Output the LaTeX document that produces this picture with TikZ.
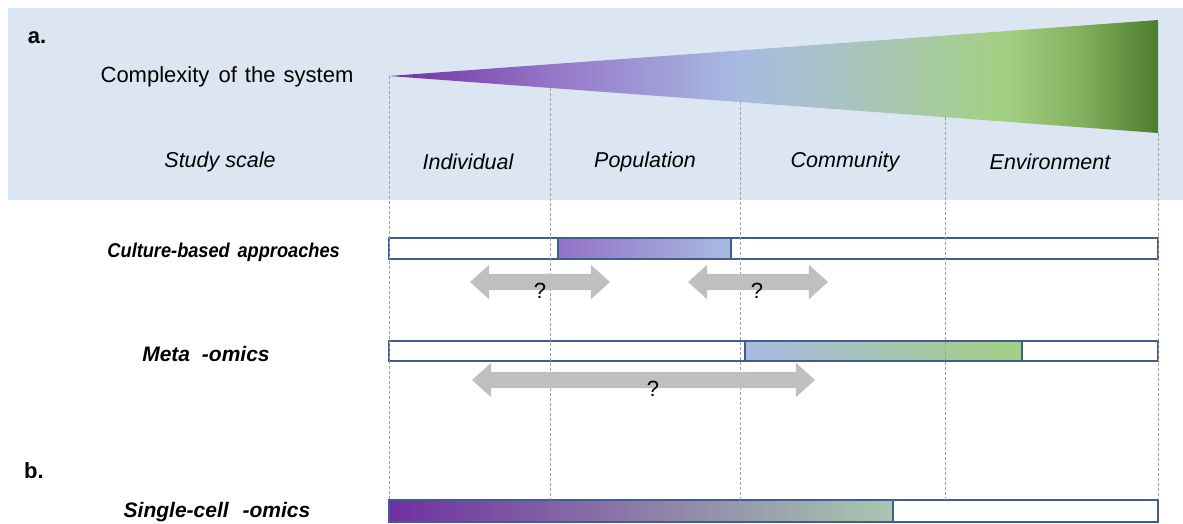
\documentclass[tikz,border=0pt]{standalone}
\usepackage{fontspec}
\usepackage{graphicx}
\setmainfont{Liberation Sans}
\usetikzlibrary{shapes.arrows}
\definecolor{bandc}{HTML}{DCE6F2}
\definecolor{outc}{HTML}{415D8E}
\definecolor{arrc}{HTML}{BFBFBF}
\definecolor{dashc}{HTML}{A0A0A0}
\definecolor{g0}{HTML}{7030A0}
\definecolor{g1}{HTML}{9575C8}
\definecolor{g2}{HTML}{A8BBE2}
\definecolor{g3}{HTML}{A8C8B0}
\definecolor{g4}{HTML}{A4D082}
\definecolor{g5}{HTML}{83B05E}
\definecolor{g6}{HTML}{4C7C2C}
\pgfdeclarehorizontalshading{cplx}{100bp}{color(0bp)=(g0); color(25bp)=(g0); color(35.5bp)=(g1); color(47.8bp)=(g2); color(58bp)=(g3); color(65bp)=(g4); color(70bp)=(g5); color(75bp)=(g6); color(100bp)=(g6)}
\tikzset{
  lbl/.style={font=\fontsize{22}{26}\selectfont, inner sep=0pt},
  scalelbl/.style={font=\fontsize{21.5}{26}\selectfont\itshape, inner sep=0pt},
  rowlbl/.style={font=\fontsize{21}{25}\selectfont\bfseries\itshape, inner sep=0pt},
  panel/.style={font=\fontsize{22}{26}\selectfont\bfseries, inner sep=0pt},
  bar/.style={draw=outc, line width=1.4pt},
  qarrow/.style={double arrow, fill=arrc, draw=none, inner sep=8pt, minimum width=34pt, double arrow head extend=9pt, double arrow tip angle=84},
  qmark/.style={font=\fontsize{22}{26}\selectfont, inner sep=0pt},
  guide/.style={draw=dashc, line width=0.6pt, dash pattern=on 3pt off 2pt},
}
\begin{document}
\begin{tikzpicture}[x=1pt,y=-1pt]
\useasboundingbox (0,0) rectangle (1183,524);
% band
\fill[bandc] (8,8) rectangle (1183,200);
% complexity triangle
\shade[shading=cplx] (389,76) -- (1158,20) -- (1158,133) -- cycle;
\node[panel] (pa) at (37,38) {a.};
\node[lbl] (cx) at (227,77) {Complexity\hspace{3pt} of\hspace{2pt} the\hspace{2pt} system};
\node[scalelbl] (ss) at (220,162) {Study scale};
\node[scalelbl] (s1) at (468,162) {Individual};
\node[scalelbl] (s2) at (645,162) {Population};
\node[scalelbl] (s3) at (845,162) {Community};
\node[scalelbl] (s4) at (1050,162) {Environment};
% bars
\node[rowlbl, anchor=east, font=\fontsize{20}{24}\selectfont\bfseries\itshape] (lc) at (340,252) {\scalebox{0.91}[1]{Culture-based\hspace{3pt} approaches}};
\draw[bar, fill=white] (389,238) rectangle (1158,259);
\draw[bar, left color=g1!95!g0, right color=g2] (558,238) rectangle (731,259);
\node[rowlbl] (lm) at (206,354) {Meta\hspace{6pt} -omics};
\draw[bar, fill=white] (389,341) rectangle (1158,361);
\draw[bar, left color=g2, right color=g4] (745,341) rectangle (1022,361);
\node[panel] (pb) at (34,471) {b.};
\node[rowlbl] (ls) at (217,512) {Single-cell\hspace{8pt} -omics};
\draw[bar, fill=white] (389,500) rectangle (1158,522);
\draw[bar, left color=g0, middle color=g1!60!g3, right color=g3] (389,500) rectangle (893,522);
% guides
\coordinate (t0) at (389,76);
\coordinate (t1) at (550,88);
\coordinate (t2) at (740,102);
\coordinate (t3) at (945,117);
\coordinate (t4) at (1158,133);
\coordinate (b0) at (389,500);
\coordinate (b1) at (550,500);
\coordinate (b2) at (740,500);
\coordinate (b3) at (945,500);
\coordinate (b4) at (1158,500);
\foreach \i in {0,...,4} \draw[guide] (t\i) -- (b\i);
% question arrows
\node[qarrow, minimum height=140pt] (q1) at (540,282) {};
\node[qmark] (m1) at (540,291) {?};
\node[qarrow, minimum height=140pt] (q2) at (758,282) {};
\node[qmark] (m2) at (757,291) {?};
\node[qarrow, minimum height=343pt] (q3) at (643.5,380) {};
\node[qmark] (m3) at (653,389) {?};
\end{tikzpicture}
\end{document}
